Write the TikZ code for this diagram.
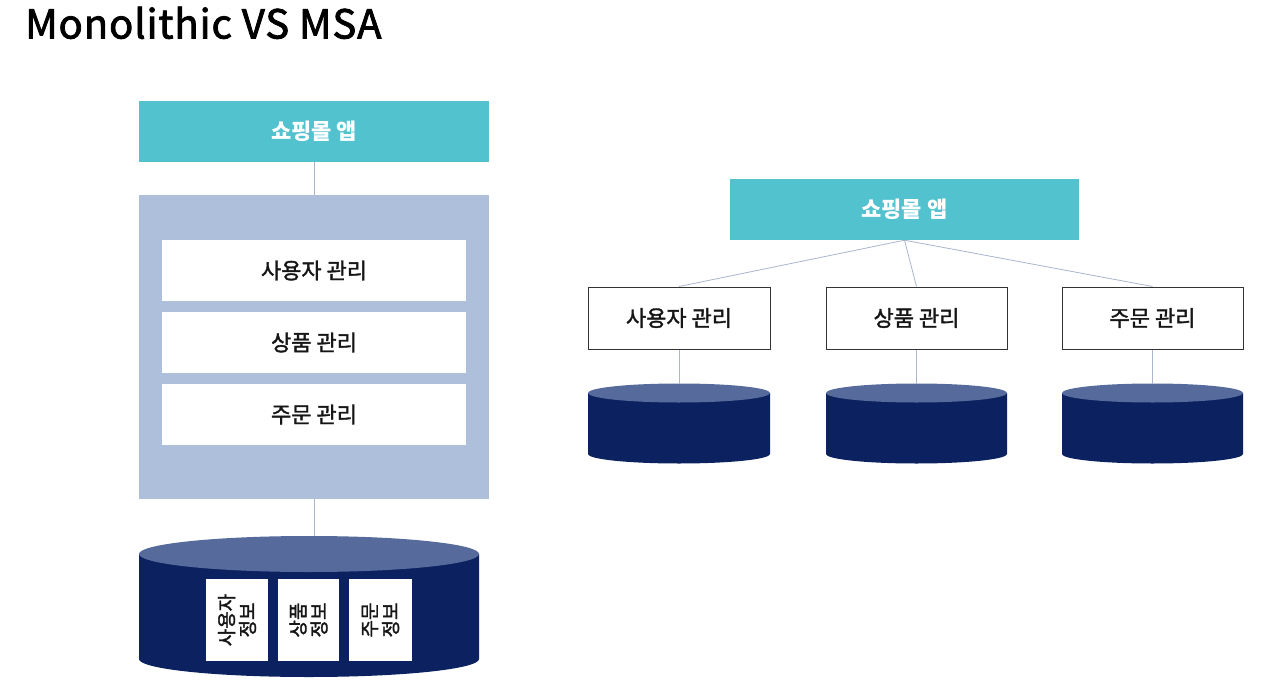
\documentclass[tikz,border=0pt]{standalone}
\usepackage{fontspec}
\newfontfamily\kr{Noto Sans CJK KR}
\newfontfamily\krmed[FakeBold=1.6]{Noto Sans CJK KR}
\newfontfamily\krtitle[FakeBold=2]{Noto Sans CJK KR}
\tikzset{
  conn/.style={draw=lineblue, line width=0.8pt},
  appbox/.style={fill=teal1, draw=none, inner sep=0pt, text=white, font=\kr\bfseries\fontsize{22}{24}\selectfont},
  modwhite/.style={fill=white, draw=none, inner sep=0pt, text=txt, font=\krmed\fontsize{22}{24}\selectfont},
  modbox/.style={fill=white, draw=boxline, line width=1pt, inner sep=0pt, text=txt, font=\krmed\fontsize{22}{24}\selectfont},
  datacard/.style={fill=white, draw=none, inner sep=0pt, text=txt, font=\krmed\fontsize{19}{21}\selectfont},
  dbbody/.style={fill=navy},
  dbtop/.style={fill=navytop},
}
\definecolor{teal1}{HTML}{52C2CF}
\definecolor{slate}{HTML}{AEBFDC}
\definecolor{navy}{HTML}{0C2260}
\definecolor{navytop}{HTML}{566B9C}
\definecolor{lineblue}{HTML}{A9B6CC}
\definecolor{boxline}{HTML}{333333}
\definecolor{txt}{HTML}{161616}
\newcommand{\dbcyl}[5]{% left x, right x, top-center y, bottom-center y, ry
  \pgfmathsetmacro\cyx{(#1+#2)/2}\pgfmathsetmacro\cyr{(#2-#1)/2}
  \fill[dbbody] (#1,#3) -- (#1,#4) arc[start angle=180,end angle=360,x radius=\cyr pt,y radius=#5pt] -- (#2,#3) -- cycle;
  \fill[dbtop] (\cyx,#3) ellipse[x radius=\cyr pt,y radius=#5pt];
}
\begin{document}
\begin{tikzpicture}[x=1pt,y=-1pt]
\useasboundingbox (0,0) rectangle (1272,693);
\fill[white] (0,0) rectangle (1272,693);
% title
\node[anchor=base west, inner sep=0pt, font=\krtitle\fontsize{40}{42}\selectfont, text=black] (title) at (25,38.5) {\addfontfeatures{LetterSpace=2.3}Monolithic VS MSA};

% ---------- Monolithic ----------
\node[appbox, minimum width=350pt, minimum height=61pt] (lapp) at (314,131.5) {쇼핑몰 앱};
\node[fill=slate, inner sep=0pt, minimum width=350pt, minimum height=304pt] (lcont) at (314,347) {};
\node[modwhite, minimum width=304pt, minimum height=61pt] (lu) at (314,270.5) {사용자 관리};
\node[modwhite, minimum width=304pt, minimum height=61pt] (lp) at (314,342.5) {상품 관리};
\node[modwhite, minimum width=304pt, minimum height=61pt] (lo) at (314,414.5) {주문 관리};
\draw[conn] (lapp.south) -- (lcont.north);
\coordinate (ldb) at (314,537);
\draw[conn] (lcont.south) -- (ldb);
\dbcyl{139}{479}{554}{659}{18}
\node[datacard, minimum width=62pt, minimum height=82pt] (c1) at (237,620) {};
\node[datacard, minimum width=61pt, minimum height=82pt] (c2) at (308.5,620) {};
\node[datacard, minimum width=63pt, minimum height=82pt] (c3) at (380.5,620) {};
\node[datacard, rotate=90, align=center, fill=none] at (c1) {사용자\\정보};
\node[datacard, rotate=90, align=center, fill=none] at (c2) {상품\\정보};
\node[datacard, rotate=90, align=center, fill=none] at (c3) {주문\\정보};

% ---------- MSA ----------
\node[appbox, minimum width=349pt, minimum height=61pt] (rapp) at (904.5,209.5) {쇼핑몰 앱};
\node[modbox, minimum width=182pt, minimum height=62pt] (ru) at (679,318) {사용자 관리};
\node[modbox, minimum width=181pt, minimum height=62pt] (rp) at (916.5,318) {상품 관리};
\node[modbox, minimum width=181pt, minimum height=62pt] (ro) at (1152.5,318) {주문 관리};
\draw[conn] (rapp.south) -- (ru.north);
\draw[conn] (rapp.south) -- (rp.north);
\draw[conn] (rapp.south) -- (ro.north);
\dbcyl{588}{770}{393}{454}{9.5}
\dbcyl{826}{1007}{393}{454}{9.5}
\dbcyl{1062}{1243}{393}{454}{9.5}
\coordinate (rdb1) at (679,384);
\coordinate (rdb2) at (916.5,384);
\coordinate (rdb3) at (1152.5,384);
\draw[conn] (ru.south) -- (rdb1);
\draw[conn] (rp.south) -- (rdb2);
\draw[conn] (ro.south) -- (rdb3);
\end{tikzpicture}
\end{document}
